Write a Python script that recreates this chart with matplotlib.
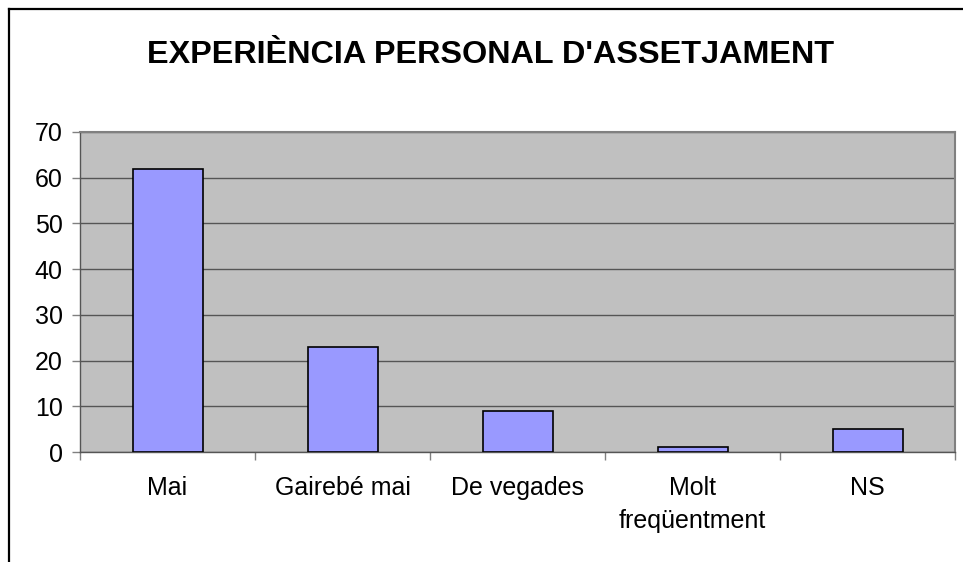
import numpy as np
import matplotlib.pyplot as plt
from matplotlib.lines import Line2D

# -----------------------------
# Data
# -----------------------------
categories = ['Mai', 'Gairebé mai', 'De vegades', 'Molt\nfreqüentment', 'NS']
values = [62, 23, 9, 1, 5]
title = "EXPERIÈNCIA PERSONAL D'ASSETJAMENT"

plt.rcParams['font.family'] = ['Liberation Sans', 'DejaVu Sans']

fig = plt.figure(figsize=(9.63, 5.62), dpi=100)
ax = fig.add_axes([80 / 963, 110 / 562, 875 / 963, 320 / 562])

x = np.arange(len(categories))
ax.bar(x, values, width=0.4, color='#9999FF', edgecolor='black',
       linewidth=1.2, zorder=3)

ax.set_facecolor('#C0C0C0')
ax.set_xlim(-0.5, len(categories) - 0.5)
ax.set_ylim(0, 70)
ax.set_yticks(np.arange(0, 71, 10))
ax.yaxis.grid(True, color='#555555', linewidth=1.0, zorder=1)
ax.set_axisbelow(True)

# labels in the middle, ticks at category boundaries
ax.set_xticks(x)
ax.set_xticklabels(categories, fontsize=18, linespacing=1.5)
ax.set_xticks(np.arange(-0.5, len(categories)), minor=True)
ax.tick_params(axis='x', which='major', length=0, pad=17)
ax.tick_params(axis='x', which='minor', length=5.5, width=1, color='#808080',
               direction='out')
ax.tick_params(axis='y', length=5.5, width=1, color='#808080', labelsize=18,
               pad=7)

for side in ['top', 'right']:
    ax.spines[side].set_color('#808080')
    ax.spines[side].set_linewidth(1.5)
for side in ['left', 'bottom']:
    ax.spines[side].set_color('#555555')
    ax.spines[side].set_linewidth(1.0)

fig.text(490.5 / 963, 1 - 63 / 562, title, ha='center', va='baseline',
         fontsize=23.3, fontweight='bold')

# outer chart border (left and top edges visible)
fig.add_artist(Line2D([9 / 963, 9 / 963], [0, 1 - 9 / 562], color='black',
                      linewidth=1.6, transform=fig.transFigure))
fig.add_artist(Line2D([9 / 963, 1], [1 - 9 / 562, 1 - 9 / 562], color='black',
                      linewidth=1.6, transform=fig.transFigure))

fig.savefig('out.png', dpi=100)
